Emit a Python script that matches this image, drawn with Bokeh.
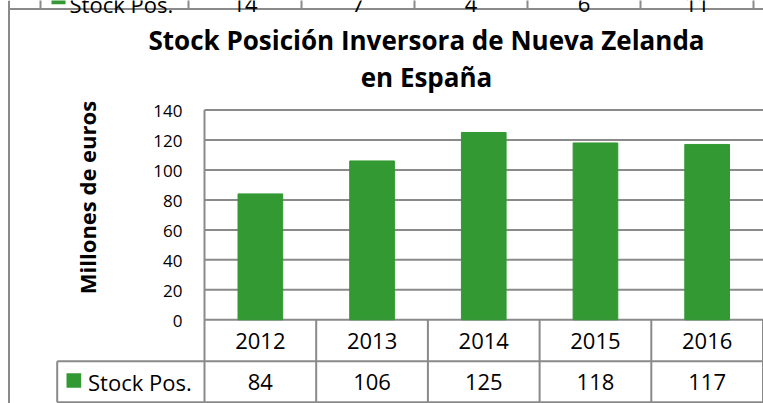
from math import pi
from bokeh.plotting import figure
from bokeh.models import Range1d, Label, ColumnDataSource
from bokeh.core.properties import value
from bokeh.embed import file_html
from bokeh.resources import INLINE

# ---- data ----
years = ["2012", "2013", "2014", "2015", "2016"]
stock = [84, 106, 125, 118, 117]
y_ticks = [0, 20, 40, 60, 80, 100, 120, 140]
series_name = "Stock Pos."
title_lines = ["Stock Posición Inversora de Nueva Zelanda", "en España"]
y_title = "Millones de euros"
# bottom row of the previous chart's table, visible (cut) at the top edge
prev_values = ["14", "7", "4", "6", "11"]

# ---- layout (page pixel geometry) ----
GREEN = "#339933"
GRAY = "#8a8a8a"
FONT = "Open Sans"
W, H = 763, 403
PX_X0 = 204.0      # page x where first category starts
COLW = 111.7       # category width in px
PX_Y0 = 319.3      # page y of value 0
PXU = 1.4986       # px per value unit


def dx(X):
    return (X - PX_X0) / COLW


def dy(Y):
    return (PX_Y0 - Y) / PXU


p = figure(width=W, height=H, output_backend="svg", toolbar_location=None,
           x_range=Range1d(dx(0), dx(W)), y_range=Range1d(dy(H), dy(0)),
           x_axis_location=None, y_axis_location=None, title=None, min_border=0)
p.outline_line_color = None
p.background_fill_color = "white"
p.border_fill_color = "white"
p.xgrid.visible = False
p.ygrid.visible = False

n = len(years)
x_end = dx(W + 20)
centers = [i + 0.5 for i in range(n)]
ymax = max(y_ticks)

# gridlines and value axis
p.segment(x0=[0] * len(y_ticks), x1=[x_end] * len(y_ticks), y0=y_ticks, y1=y_ticks,
          line_color=GRAY, line_width=2)
row1_bottom = dy(360.7)
row2_bottom = dy(401.7)
p.segment(x0=[0], x1=[0], y0=[ymax], y1=[row2_bottom], line_color=GRAY, line_width=2)
p.text(x=[dx(182)] * len(y_ticks), y=y_ticks, text=[str(t) for t in y_ticks],
       text_font=value(FONT), text_font_size=value("17px"), text_align="right",
       text_baseline="middle", text_color="black", y_offset=1.5)

# bars
src = ColumnDataSource(dict(x=centers, top=stock))
p.vbar(x="x", top="top", bottom=0, width=0.4, source=src, fill_color=GREEN, line_color=GREEN)

# data table below the plot
p.segment(x0=[dx(56.7)], x1=[x_end], y0=[row1_bottom], y1=[row1_bottom], line_color=GRAY, line_width=2)
p.segment(x0=[dx(56.7)], x1=[x_end], y0=[row2_bottom], y1=[row2_bottom], line_color=GRAY, line_width=2)
p.segment(x0=[dx(56.7)], x1=[dx(56.7)], y0=[row1_bottom], y1=[row2_bottom], line_color=GRAY, line_width=2)
p.segment(x0=list(range(1, n + 1)), x1=list(range(1, n + 1)),
          y0=[0] * n, y1=[row2_bottom] * n, line_color=GRAY, line_width=2)
tsrc = ColumnDataSource(dict(x=centers, y1=[row1_bottom / 2] * n,
                             y2=[(row1_bottom + row2_bottom) / 2] * n,
                             year=years, val=[str(v) for v in stock]))
p.text(x="x", y="y1", text="year", source=tsrc, text_font=value(FONT), text_font_size=value("22px"),
       text_align="center", text_baseline="middle", text_color="black")
p.text(x="x", y="y2", text="val", source=tsrc, text_font=value(FONT), text_font_size=value("22px"),
       text_align="center", text_baseline="middle", text_color="black")
p.quad(left=[dx(66)], right=[dx(80.7)], top=[dy(372.7)], bottom=[dy(387.3)],
       fill_color=GREEN, line_color=None)
p.text(x=[dx(87.5)], y=[(row1_bottom + row2_bottom) / 2], text=[series_name],
       text_font=value(FONT), text_font_size=value("22px"), text_align="left",
       text_baseline="middle", text_color="black")

# outer chart border (left and top edges visible)
p.segment(x0=[dx(8.5)], x1=[dx(8.5)], y0=[dy(0)], y1=[dy(H + 5)], line_color=GRAY, line_width=2)
p.segment(x0=[dx(8.5)], x1=[dx(W + 5)], y0=[dy(8.5)], y1=[dy(8.5)], line_color=GRAY, line_width=2)

# cut-off bottom row of the previous chart's table at the top edge
STRIP_X0, STRIP_W = 188.0, 113.0
k = len(prev_values)
strip_bounds = [dx(40)] + [dx(STRIP_X0 + i * STRIP_W) for i in range(k + 1)]
p.segment(x0=strip_bounds, x1=strip_bounds, y0=[dy(-5)] * len(strip_bounds),
          y1=[dy(8.5)] * len(strip_bounds), line_color=GRAY, line_width=2)
p.quad(left=[dx(51)], right=[dx(65)], top=[dy(-10)], bottom=[dy(3.7)], fill_color=GREEN, line_color=None)
p.text(x=[dx(69)], y=[dy(3)], text=[series_name], text_font=value(FONT), text_font_size=value("22px"),
       text_align="left", text_baseline="alphabetic", text_color="black")
p.text(x=[dx(STRIP_X0 + (i + 0.5) * STRIP_W) for i in range(k)], y=[dy(3)] * k, text=prev_values,
       text_font=value(FONT), text_font_size=value("22px"), text_align="center",
       text_baseline="alphabetic", text_color="black")

# title
p.add_layout(Label(x=dx(426), y=dy(39), text=title_lines[0], text_font=FONT,
                   text_font_size="26px", text_font_style="bold", text_align="center",
                   text_baseline="middle", text_color="black"))
p.add_layout(Label(x=dx(426), y=dy(76), text=title_lines[1], text_font=FONT,
                   text_font_size="26px", text_font_style="bold", text_align="center",
                   text_baseline="middle", text_color="black"))

# value axis title
p.add_layout(Label(x=dx(86), y=dy(197), text=y_title, angle=pi / 2, text_font=FONT,
                   text_font_size="22px", text_font_style="bold", text_align="center",
                   text_baseline="middle", text_color="black"))

open("out.html", "w").write(file_html(p, INLINE))
